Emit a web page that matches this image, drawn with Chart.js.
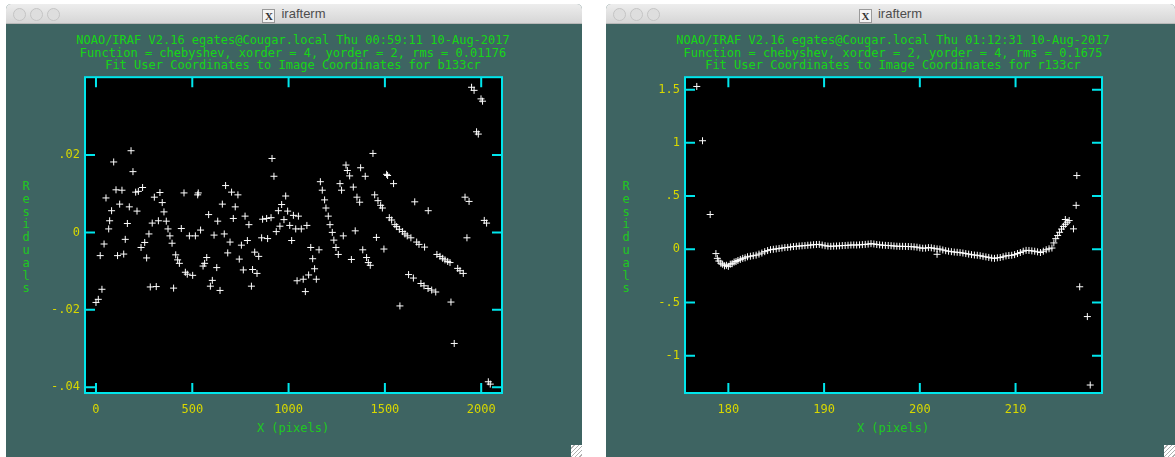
<!DOCTYPE html>
<html>
<head>
<meta charset="utf-8">
<script src="https://cdn.jsdelivr.net/npm/chart.js@4.4.1/dist/chart.umd.min.js"></script>
<style>
  body { margin: 0; width: 1175px; height: 457px; overflow: hidden; position: relative; background: #fff; font-family: "DejaVu Sans Mono", monospace; }
  .win { position: absolute; top: 4px; height: 470px; background: #3e6462; border-radius: 5px 5px 0 0; overflow: hidden; }
  .bar { position: absolute; left: 0; top: 0; right: 0; height: 19px; background: linear-gradient(#ededed, #d6d6d6); border-bottom: 1px solid #b8b8b8; }
  .dot { position: absolute; top: 4px; width: 11px; height: 11px; border-radius: 50%; background: #dedede; border: 1px solid #c4c4c4; }
  .wtitle { position: absolute; top: 2px; left: 0; right: 0; text-align: center; font: 13px "Liberation Sans", Arial, sans-serif; color: #4d4d4d; }
  .xicon { display: inline-block; width: 11px; height: 12px; line-height: 12px; margin-right: 6px; border: 1px solid #9a9a9a; background: #f4f4f4; font: bold 11px "Liberation Serif", serif; color: #333; vertical-align: -2px; }
  .grip { position: absolute; width: 11px; height: 12px; top: 445px; background: repeating-linear-gradient(135deg, #fff 0 2px, #b0b0b0 2px 3px); }
  .head { position: absolute; width: 600px; top: 34px; color: #16d616; font-size: 12px; line-height: 12.5px; text-align: center; white-space: pre; }
  .ylab { position: absolute; top: 180px; width: 12px; color: #1ec81e; font-size: 12px; line-height: 12.8px; text-align: center; }
  .xlab { position: absolute; width: 200px; top: 422px; color: #1ec81e; font-size: 12px; line-height: 12px; text-align: center; }
  canvas { position: absolute; top: 65px; }
</style>
</head>
<body>

<div class="win" style="left:6px; width:576px;">
  <div class="bar">
    <div class="dot" style="left:7px"></div><div class="dot" style="left:24px"></div><div class="dot" style="left:41px"></div>
    <div class="wtitle"><span class="xicon">X</span>irafterm</div>
  </div>
</div>
<div class="grip" style="left:571px"></div>

<div class="win" style="left:606px; width:569px;">
  <div class="bar">
    <div class="dot" style="left:7px"></div><div class="dot" style="left:24px"></div><div class="dot" style="left:41px"></div>
    <div class="wtitle"><span class="xicon">X</span>irafterm</div>
  </div>
</div>
<div class="grip" style="left:1164px"></div>

<div class="head" style="left:-7px">NOAO/IRAF V2.16 egates@Cougar.local Thu 00:59:11 10-Aug-2017
Function = chebyshev, xorder = 4, yorder = 2, rms = 0.01176
Fit User Coordinates to Image Coordinates for b133cr</div>
<div class="head" style="left:593px">NOAO/IRAF V2.16 egates@Cougar.local Thu 01:12:31 10-Aug-2017
Function = chebyshev, xorder = 2, yorder = 4, rms = 0.1675
Fit User Coordinates to Image Coordinates for r133cr</div>

<div class="ylab" style="left:20px">R<br>e<br>s<br>i<br>d<br>u<br>a<br>l<br>s</div>
<div class="ylab" style="left:620px">R<br>e<br>s<br>i<br>d<br>u<br>a<br>l<br>s</div>
<div class="xlab" style="left:193px">X (pixels)</div>
<div class="xlab" style="left:793px">X (pixels)</div>

<canvas id="leftChart" width="500" height="360" style="left:20px"></canvas>
<canvas id="rightChart" width="500" height="360" style="left:620px"></canvas>

<script>
// b133cr residuals
const leftX = [182, 92, 192, 104, 135, 206, 220, 242, 52, 81, 123, 173, 213, 71, 66, 163, 42, 152, 22, 112,
  144, 31, 12, 0, 292, 303, 332, 344, 353, 324, 365, 275, 253, 234, 263, 374, 384, 395, 414, 424,
  433, 457, 443, 464, 474, 502, 282, 313, 403, 485, 516, 528, 531, 543, 575, 556, 564, 627, 585, 604,
  594, 644, 632, 613, 666, 656, 673, 704, 737, 723, 713, 696, 684, 774, 794, 755, 786, 744, 765, 824,
  845, 813, 836, 807, 865, 886, 909, 860, 891, 914, 924, 936, 955, 947, 964, 985, 976, 995, 1006, 1025,
  1037, 1051, 1016, 1044, 1950, 1963, 1999, 2007, 1976, 1985, 1438, 1298, 1305, 1317, 1374, 1398, 1509, 1514, 1545, 1165,
  1175, 1267, 1275, 1336, 1187, 1194, 1206, 1215, 1227, 1235, 1246, 1258, 1284, 1346, 1355, 1369, 1447, 1464, 1478, 1487,
  1456, 1495, 1385, 1405, 1414, 1424, 1326, 1523, 1535, 1552, 1561, 1575, 1592, 1604, 1616, 1635, 1665, 1677, 1706, 1655,
  1725, 1916, 1937, 2016, 2028, 1926, 1770, 1786, 1800, 1812, 1826, 1838, 1878, 1890, 1907, 1623, 1648, 1687, 1703, 1724,
  1743, 1764, 1843, 1578, 1860, 2037, 2047, 1066, 1095, 1115, 1158, 1125, 1135, 1144, 1104, 1076, 1087];
const leftY = [0.0211, 0.0182, 0.0157, 0.0110, 0.0109, 0.0104, 0.0106, 0.0116, 0.0089, 0.0056, 0.0073, 0.0066, 0.0055, 0.0030, 0.0009, 0.0023, -0.0030, -0.0018, -0.0060, -0.0060,
  -0.0056, -0.0147, -0.0173, -0.0181, 0.0024, 0.0091, 0.0103, 0.0077, 0.0053, 0.0030, 0.0029, -0.0004, -0.0026, -0.0039, -0.0066, 0.0009, -0.0009, -0.0028, -0.0058, -0.0071,
  -0.0080, 0.0102, 0.0010, -0.0103, -0.0108, -0.0111, -0.0141, -0.0140, -0.0144, -0.0009, -0.0009, 0.0097, 0.0102, 0.0006, -0.0065, -0.0087, -0.0080, -0.0091, 0.0046, -0.0124,
  -0.0139, -0.0150, 0.0029, -0.0007, -0.0004, 0.0073, 0.0121, 0.0104, 0.0097, 0.0066, 0.0036, -0.0025, -0.0053, 0.0042, 0.0020, -0.0033, -0.0021, -0.0069, -0.0097, -0.0051,
  -0.0062, -0.0096, -0.0106, -0.0139, 0.0034, 0.0036, 0.0038, -0.0014, -0.0016, 0.0191, 0.0145, 0.0002, 0.0016, 0.0056, 0.0072, 0.0094, 0.0033, 0.0055, 0.0018, 0.0044,
  0.0009, 0.0042, -0.0021, -0.0125, 0.0375, 0.0367, 0.0345, 0.0339, 0.0260, 0.0254, 0.0204, 0.0174, 0.0160, 0.0146, 0.0167, 0.0145, 0.0150, 0.0147, 0.0126, 0.0131,
  0.0109, 0.0126, 0.0109, 0.0117, 0.0084, 0.0063, 0.0042, 0.0020, 0.0000, -0.0020, -0.0039, -0.0057, -0.0009, 0.0004, 0.0091, 0.0078, 0.0097, 0.0082, 0.0070, 0.0063,
  -0.0013, -0.0043, -0.0045, -0.0065, -0.0078, -0.0085, -0.0070, 0.0038, 0.0032, 0.0020, 0.0015, 0.0008, 0.0002, -0.0004, -0.0009, -0.0014, -0.0025, -0.0031, -0.0038, 0.0079,
  0.0056, 0.0091, 0.0080, 0.0031, 0.0024, -0.0014, -0.0057, -0.0062, -0.0067, -0.0071, -0.0075, -0.0078, -0.0093, -0.0099, -0.0106, -0.0109, -0.0118, -0.0132, -0.0138, -0.0145,
  -0.0149, -0.0154, -0.0180, -0.0190, -0.0287, -0.0386, -0.0392, 0.0009, 0.0018, -0.0039, -0.0045, -0.0068, -0.0094, -0.0121, -0.0110, -0.0121, -0.0153];
const leftXRange = [-57, 2108];
const leftYRange = [-0.0415, 0.0401];
const leftXTicks = [0, 500, 1000, 1500, 2000];
const leftYTicks = [-0.04, -0.02, 0, 0.02];

// r133cr residuals
const rightX = [176.7, 177.3, 178.1, 178.7,
  178.85, 179.0, 179.2, 179.4, 179.6, 179.8, 180.0, 180.2, 180.4, 180.6, 180.8, 181.0, 181.25, 181.5, 181.75, 182.0,
  182.3, 182.6, 182.9, 183.2, 183.5, 183.8, 184.1, 184.4, 184.7, 185.0, 185.3, 185.6, 185.9, 186.2, 186.5, 186.8, 187.1, 187.4, 187.7, 188.0,
  188.3, 188.6, 188.9, 189.2, 189.5, 189.8, 190.1, 190.4, 190.7, 191.0, 191.3, 191.6, 191.9, 192.2, 192.5, 192.8, 193.1, 193.4, 193.7, 194.0,
  194.3, 194.6, 194.9, 195.2, 195.5, 195.8, 196.1, 196.4, 196.7, 197.0, 197.3, 197.6, 197.9, 198.2, 198.5, 198.8, 199.1, 199.4, 199.7, 200.0,
  200.3, 200.6, 200.9, 201.2, 201.5, 201.8, 202.1, 202.4, 202.7, 203.0, 203.3, 203.6, 203.9, 204.2, 204.5, 204.8, 205.1, 205.4, 205.7, 206.0,
  206.3, 206.6, 206.9, 207.2, 207.5, 207.8, 208.1, 208.4, 208.7, 209.0, 209.3, 209.6, 209.9, 210.2, 210.5, 210.8, 211.1, 211.4, 211.7, 212.0,
  212.3, 212.6, 212.9, 213.2, 213.5, 213.8, 214.0, 214.2, 214.4, 214.6, 214.8, 215.0, 215.2, 215.4, 215.6,
  201.8, 215.2, 216.05, 216.33, 216.4, 216.7, 217.5, 217.8];
const rightY = [1.53, 1.02, 0.327, -0.04,
  -0.085, -0.11, -0.13, -0.14, -0.155, -0.15, -0.16, -0.14, -0.135, -0.12, -0.115, -0.105, -0.095, -0.085, -0.08, -0.07,
  -0.065, -0.06, -0.055, -0.045, -0.035, -0.022, -0.012, -0.003, 0.0, 0.004, 0.008, 0.012, 0.016, 0.018, 0.022, 0.026, 0.028, 0.031, 0.033, 0.035,
  0.038, 0.040, 0.043, 0.045, 0.046, 0.040, 0.034, 0.030, 0.028, 0.030, 0.031, 0.033, 0.035, 0.036, 0.038, 0.040, 0.041, 0.040, 0.042, 0.044,
  0.046, 0.049, 0.053, 0.050, 0.045, 0.042, 0.039, 0.037, 0.036, 0.034, 0.031, 0.029, 0.028, 0.028, 0.027, 0.026, 0.025, 0.023, 0.020, 0.014,
  0.010, 0.011, 0.016, 0.014, 0.009, 0.004, 0.002, -0.006, -0.013, -0.018, -0.022, -0.026, -0.028, -0.031, -0.035, -0.040, -0.045, -0.050, -0.054, -0.056,
  -0.060, -0.066, -0.071, -0.076, -0.082, -0.085, -0.080, -0.077, -0.070, -0.062, -0.058, -0.056, -0.050, -0.040, -0.030, -0.018, -0.010, -0.011, -0.015, -0.018,
  -0.024, -0.030, -0.018, -0.004, 0.005, 0.012, 0.06, 0.10, 0.13, 0.16, 0.19, 0.215, 0.235, 0.255, 0.27,
  -0.047, 0.28, 0.192, 0.413, 0.693, -0.352, -0.632, -1.275];
const rightXRange = [175.47, 219.03];
const rightYRange = [-1.35, 1.617];
const rightXTicks = [180, 190, 200, 210];
const rightYTicks = [-1, -0.5, 0, 0.5, 1, 1.5];

const MONO = '"DejaVu Sans Mono", monospace';
const YELLOW = '#d8d800';
const CYAN = '#00e6ec';

// IRAF style labels: .02, -.5 (no leading zero)
function fmt(v) {
  return String(v).replace(/^(-?)0\./, '$1.');
}

// black plot box, cyan frame and inward ticks on all four sides
const framePlugin = {
  id: 'iraf-frame',
  beforeDraw(chart) {
    const a = chart.chartArea;
    chart.ctx.fillStyle = '#000';
    chart.ctx.fillRect(a.left, a.top, a.right - a.left, a.bottom - a.top);
  },
  afterDraw(chart) {
    const ctx = chart.ctx;
    const a = chart.chartArea;
    const len = 10;
    ctx.save();
    ctx.strokeStyle = CYAN;
    ctx.lineWidth = 2;
    ctx.beginPath();
    chart.scales.x.ticks.forEach(t => {
      const px = chart.scales.x.getPixelForValue(t.value);
      ctx.moveTo(px, a.bottom); ctx.lineTo(px, a.bottom - len);
      ctx.moveTo(px, a.top); ctx.lineTo(px, a.top + len);
    });
    chart.scales.y.ticks.forEach(t => {
      const py = chart.scales.y.getPixelForValue(t.value);
      ctx.moveTo(a.left, py); ctx.lineTo(a.left + len, py);
      ctx.moveTo(a.right, py); ctx.lineTo(a.right - len, py);
    });
    ctx.stroke();
    ctx.strokeRect(a.left, a.top, a.right - a.left, a.bottom - a.top);
    ctx.restore();
  }
};

function residualChart(id, xs, ys, xRange, yRange, xTicks, yTicks) {
  const points = xs.map((x, i) => ({ x: x, y: ys[i] }));
  return new Chart(document.getElementById(id), {
    type: 'scatter',
    data: {
      datasets: [{
        data: points,
        pointStyle: 'cross',
        pointRadius: 3.5,
        borderWidth: 1,
        borderColor: '#ffffff',
        backgroundColor: '#ffffff'
      }]
    },
    options: {
      responsive: false,
      animation: false,
      layout: { padding: { top: 10, right: 18, left: 0, bottom: 0 } },
      plugins: { legend: { display: false }, tooltip: { enabled: false } },
      scales: {
        x: {
          type: 'linear',
          min: xRange[0],
          max: xRange[1],
          grid: { display: false, drawTicks: false },
          border: { display: false },
          afterBuildTicks: s => { s.ticks = xTicks.map(v => ({ value: v })); },
          afterFit: s => { s.height = 32; },
          ticks: { padding: 10, color: YELLOW, font: { family: MONO, size: 12 }, callback: fmt, maxRotation: 0, autoSkip: false }
        },
        y: {
          type: 'linear',
          min: yRange[0],
          max: yRange[1],
          grid: { display: false, drawTicks: false },
          border: { display: false },
          afterBuildTicks: s => { s.ticks = yTicks.map(v => ({ value: v })); },
          afterFit: s => { s.width = 65; },
          ticks: { padding: 5, color: YELLOW, font: { family: MONO, size: 12 }, callback: fmt, autoSkip: false }
        }
      }
    },
    plugins: [framePlugin]
  });
}

residualChart('leftChart', leftX, leftY, leftXRange, leftYRange, leftXTicks, leftYTicks);
residualChart('rightChart', rightX, rightY, rightXRange, rightYRange, rightXTicks, rightYTicks);
</script>
</body>
</html>
